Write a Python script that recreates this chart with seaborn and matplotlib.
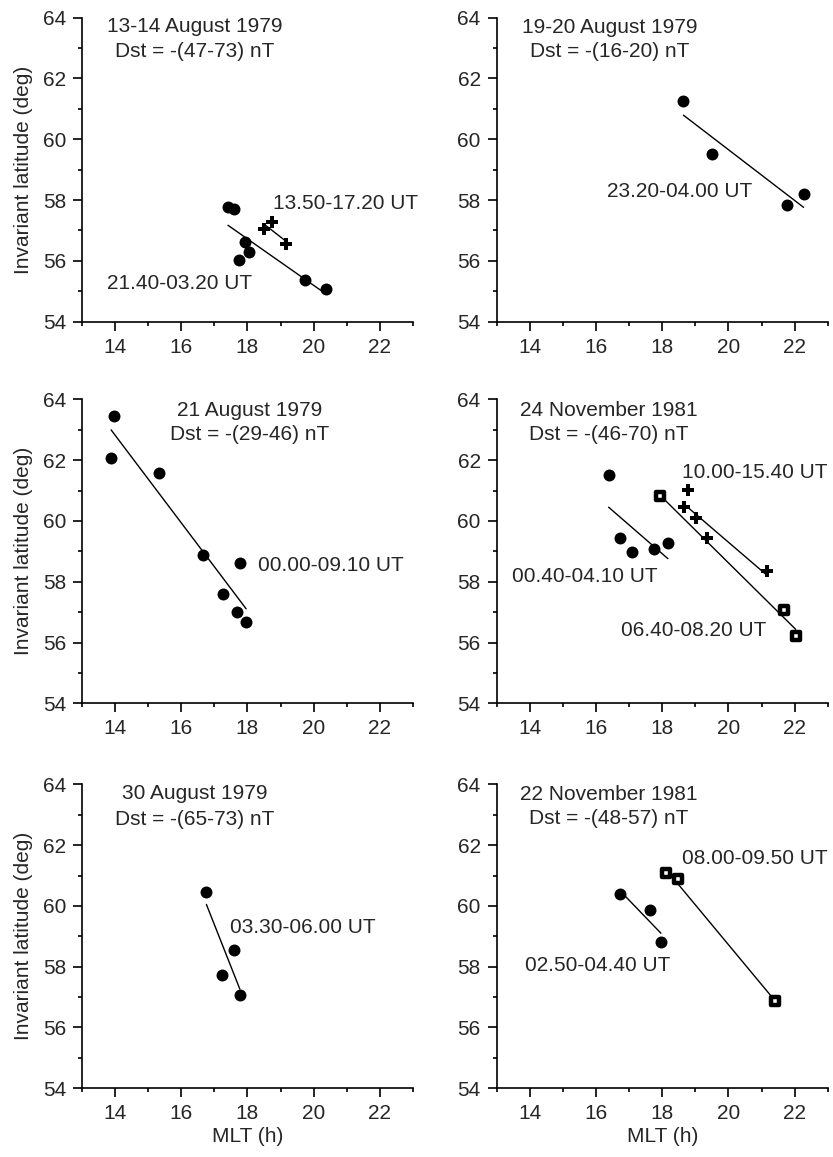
import matplotlib
matplotlib.use("Agg")
import matplotlib.pyplot as plt
import seaborn as sns
from matplotlib.ticker import MultipleLocator

# ---------------------------------------------------------------------------
# Data (MLT in hours, invariant latitude in degrees)
# ---------------------------------------------------------------------------
# 13-14 August 1979
aug13_dot_mlt = [17.41, 17.59, 17.94, 18.04, 17.75, 19.75, 20.38]
aug13_dot_lat = [57.78, 57.70, 56.61, 56.28, 56.03, 55.37, 55.09]
aug13_cross_mlt = [18.49, 18.75, 19.15]
aug13_cross_lat = [57.04, 57.29, 56.54]

# 19-20 August 1979
aug19_dot_mlt = [18.64, 19.51, 21.77, 22.27]
aug19_dot_lat = [61.25, 59.53, 57.83, 58.19]

# 21 August 1979
aug21_dot_mlt = [13.96, 13.88, 15.34, 16.67, 17.77, 17.25, 17.68, 17.96]
aug21_dot_lat = [63.47, 62.08, 61.58, 58.87, 58.61, 57.60, 57.00, 56.67]

# 24 November 1981
nov24_dot_mlt = [16.38, 16.72, 17.10, 17.74, 18.17]
nov24_dot_lat = [61.50, 59.45, 58.98, 59.09, 59.27]
nov24_square_mlt = [17.93, 21.69, 22.03]
nov24_square_lat = [60.83, 57.06, 56.20]
nov24_cross_mlt = [18.77, 18.65, 19.01, 19.34, 21.15]
nov24_cross_lat = [61.03, 60.46, 60.11, 59.43, 58.35]

# 30 August 1979
aug30_dot_mlt = [16.76, 17.59, 17.22, 17.77]
aug30_dot_lat = [60.47, 58.55, 57.74, 57.08]

# 22 November 1981
nov22_dot_mlt = [16.72, 17.64, 17.96]
nov22_dot_lat = [60.40, 59.87, 58.80]
nov22_square_mlt = [18.10, 18.47, 21.41]
nov22_square_lat = [61.09, 60.87, 56.86]

# ---------------------------------------------------------------------------
# Style
# ---------------------------------------------------------------------------
sns.set_style("ticks")
plt.rcParams["font.family"] = ["Liberation Sans", "DejaVu Sans"]
FS = 15

MARKERS = {
    "dot": dict(marker="o", s=74, color="black", linewidth=0),
    "cross": dict(marker="P", s=72, color="black", linewidth=0),
    "square": dict(marker="s", s=30, color="white", edgecolor="black", linewidth=3.2),
}


def draw_group(ax, mlt, lat, kind):
    """Scatter one group of passes and its least-squares line."""
    sns.regplot(x=mlt, y=lat, ax=ax, scatter=False, ci=None, truncate=True,
                color="black", line_kws={"linewidth": 1.0, "zorder": 2})
    sns.scatterplot(x=mlt, y=lat, ax=ax, zorder=3, legend=False, **MARKERS[kind])


def style_axes(ax, left_col, bottom_row):
    ax.set_xlim(13, 23)
    ax.set_ylim(54, 64)
    ax.xaxis.set_major_locator(MultipleLocator(2))
    ax.xaxis.set_minor_locator(MultipleLocator(1))
    ax.yaxis.set_major_locator(MultipleLocator(2))
    ax.yaxis.set_minor_locator(MultipleLocator(1))
    ax.tick_params(which="major", direction="out", length=6.5, width=1.2,
                   labelsize=FS, pad=5, color="black")
    ax.tick_params(which="minor", direction="out", length=3, width=1.2, color="black")
    for side in ("top", "right"):
        ax.spines[side].set_visible(False)
    for side in ("left", "bottom"):
        ax.spines[side].set_linewidth(1.2)
        ax.spines[side].set_color("black")
    ax.set_facecolor("white")
    ax.set_xlabel("MLT (h)" if bottom_row else "", fontsize=FS, labelpad=3)
    ax.set_ylabel("Invariant latitude (deg)" if left_col else "", fontsize=FS, labelpad=7)


def header(ax, x, y1, y2, date, dst):
    ax.text(x, y1, date, ha="center", va="baseline", fontsize=FS)
    ax.text(x, y2, dst, ha="center", va="baseline", fontsize=FS)


def label(ax, x, y, txt):
    ax.text(x, y, txt, ha="left", va="baseline", fontsize=FS)


fig = plt.figure(figsize=(8.33, 11.57), dpi=100)
fig.patch.set_facecolor("white")

W, H = 0.3974, 0.2627
LEFTS = [0.0984, 0.5963]
BOTTOMS = [0.7220, 0.3921, 0.0594]

axes = {}
for r, b in enumerate(BOTTOMS):
    for c, l in enumerate(LEFTS):
        axes[(r, c)] = fig.add_axes([l, b, W, H])

# 13-14 August 1979
ax = axes[(0, 0)]
draw_group(ax, aug13_dot_mlt, aug13_dot_lat, "dot")
draw_group(ax, aug13_cross_mlt, aug13_cross_lat, "cross")
header(ax, 16.42, 63.52, 62.72, "13-14 August 1979", "Dst = -(47-73) nT")
label(ax, 18.77, 57.70, "13.50-17.20 UT")
label(ax, 13.75, 55.06, "21.40-03.20 UT")

# 19-20 August 1979
ax = axes[(0, 1)]
draw_group(ax, aug19_dot_mlt, aug19_dot_lat, "dot")
header(ax, 16.40, 63.50, 62.70, "19-20 August 1979", "Dst = -(16-20) nT")
label(ax, 16.33, 58.11, "23.20-04.00 UT")

# 21 August 1979
ax = axes[(1, 0)]
draw_group(ax, aug21_dot_mlt, aug21_dot_lat, "dot")
header(ax, 18.05, 63.45, 62.65, "21 August 1979", "Dst = -(29-46) nT")
label(ax, 18.31, 58.35, "00.00-09.10 UT")

# 24 November 1981
ax = axes[(1, 1)]
draw_group(ax, nov24_dot_mlt, nov24_dot_lat, "dot")
draw_group(ax, nov24_square_mlt, nov24_square_lat, "square")
draw_group(ax, nov24_cross_mlt, nov24_cross_lat, "cross")
header(ax, 16.38, 63.45, 62.65, "24 November 1981", "Dst = -(46-70) nT")
label(ax, 18.61, 61.43, "10.00-15.40 UT")
label(ax, 13.45, 57.99, "00.40-04.10 UT")
label(ax, 16.75, 56.22, "06.40-08.20 UT")

# 30 August 1979
ax = axes[(2, 0)]
draw_group(ax, aug30_dot_mlt, aug30_dot_lat, "dot")
header(ax, 16.42, 63.52, 62.67, "30 August 1979", "Dst = -(65-73) nT")
label(ax, 17.48, 59.12, "03.30-06.00 UT")

# 22 November 1981
ax = axes[(2, 1)]
draw_group(ax, nov22_dot_mlt, nov22_dot_lat, "dot")
draw_group(ax, nov22_square_mlt, nov22_square_lat, "square")
header(ax, 16.38, 63.50, 62.70, "22 November 1981", "Dst = -(48-57) nT")
label(ax, 18.61, 61.38, "08.00-09.50 UT")
label(ax, 13.84, 57.87, "02.50-04.40 UT")

for (r, c), ax in axes.items():
    style_axes(ax, left_col=(c == 0), bottom_row=(r == 2))

fig.savefig("out.png", dpi=100, facecolor="white")
